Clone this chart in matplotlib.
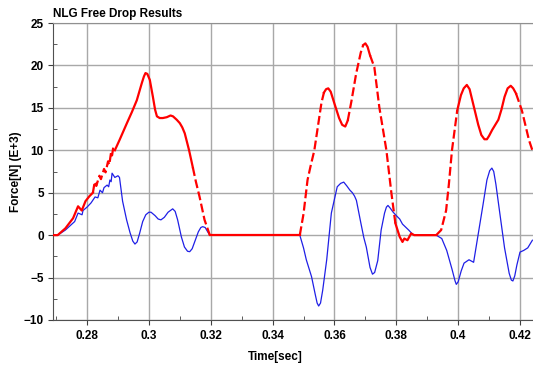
import numpy as np
import matplotlib
matplotlib.use("Agg")
import matplotlib.pyplot as plt
from matplotlib.ticker import MultipleLocator, FormatStrFormatter

plt.rcParams['font.family'] = ['Liberation Sans', 'DejaVu Sans']
plt.rcParams['font.weight'] = 'bold'

# blue trace (time [s], force [kN])
blue_t = [0.2690, 0.2705, 0.2730, 0.2760, 0.2771, 0.2784, 0.2787, 0.2800, 0.2813, 0.2826,
          0.2835, 0.2842, 0.2850, 0.2855, 0.2865, 0.2870, 0.2874, 0.2878, 0.2881, 0.2890,
          0.2900, 0.2905, 0.2915, 0.2928, 0.2939, 0.2948, 0.2955, 0.2962, 0.2970, 0.2980,
          0.2990, 0.3000, 0.3007, 0.3020, 0.3030, 0.3039, 0.3050, 0.3062, 0.3077, 0.3085,
          0.3093, 0.3105, 0.3115, 0.3125, 0.3132, 0.3140, 0.3150, 0.3160, 0.3168, 0.3174,
          0.3182, 0.3190, 0.3197, 0.3488, 0.3500, 0.3509, 0.3526, 0.3538, 0.3544, 0.3549,
          0.3555, 0.3562, 0.3575, 0.3590, 0.3609, 0.3620, 0.3630, 0.3640, 0.3650, 0.3658,
          0.3665, 0.3671, 0.3685, 0.3695, 0.3703, 0.3715, 0.3723, 0.3730, 0.3740, 0.3751,
          0.3762, 0.3768, 0.3773, 0.3780, 0.3790, 0.3800, 0.3811, 0.3820, 0.3840, 0.3853,
          0.3860, 0.3929, 0.3947, 0.3963, 0.3980, 0.3990, 0.3994, 0.4000, 0.4010, 0.4019,
          0.4035, 0.4050, 0.4067, 0.4080, 0.4093, 0.4102, 0.4109, 0.4115, 0.4122, 0.4135,
          0.4150, 0.4165, 0.4172, 0.4177, 0.4183, 0.4190, 0.4200, 0.4212, 0.4225, 0.4240]
blue_v = [0.0, 0.0, 0.6, 1.6, 2.6, 2.4, 2.9, 3.3, 3.8, 4.5,
          4.4, 5.3, 5.0, 5.6, 5.9, 5.7, 6.5, 6.3, 7.3, 6.8,
          7.0, 6.8, 4.0, 1.8, 0.3, -0.7, -1.05, -0.8, 0.2, 1.6,
          2.4, 2.7, 2.7, 2.3, 1.9, 1.8, 2.1, 2.7, 3.1, 2.8,
          1.8, -0.2, -1.4, -1.9, -1.95, -1.6, -0.6, 0.4, 0.9, 1.0,
          0.9, 0.4, 0.0, 0.0, -1.5, -2.9, -4.9, -7.0, -8.0, -8.35,
          -8.0, -6.5, -2.9, 2.6, 5.7, 6.1, 6.25, 5.8, 5.3, 5.0,
          4.6, 4.1, 1.5, -0.3, -1.4, -3.8, -4.6, -4.4, -3.0, 0.6,
          2.6, 3.3, 3.5, 3.2, 2.7, 2.3, 1.9, 1.3, 0.6, 0.1,
          0.0, 0.0, -0.4, -1.8, -4.0, -5.4, -5.8, -5.5, -4.2, -3.3,
          -2.9, -3.2, 0.6, 3.5, 6.5, 7.6, 7.9, 7.5, 6.0, 2.5,
          -1.5, -4.5, -5.3, -5.4, -4.8, -3.5, -2.0, -1.8, -1.5, -0.6]

# red trace
red_t = [0.2690, 0.2705, 0.2730, 0.2755, 0.2771, 0.2783, 0.2795, 0.2808, 0.2819, 0.2825,
         0.2830, 0.2840, 0.2845, 0.2855, 0.2860, 0.2868, 0.2872, 0.2878, 0.2881, 0.2885,
         0.2890, 0.2905, 0.2929, 0.2945, 0.2961, 0.2977, 0.2984, 0.2989, 0.2995, 0.3003,
         0.3013, 0.3020, 0.3026, 0.3035, 0.3045, 0.3058, 0.3070, 0.3078, 0.3090, 0.3100,
         0.3108, 0.3116, 0.3130, 0.3142, 0.3152, 0.3164, 0.3180, 0.3197, 0.3488, 0.3500,
         0.3513, 0.3522, 0.3535, 0.3558, 0.3566, 0.3573, 0.3580, 0.3588, 0.3600, 0.3615,
         0.3625, 0.3635, 0.3643, 0.3655, 0.3670, 0.3685, 0.3693, 0.3700, 0.3707, 0.3715,
         0.3729, 0.3745, 0.3768, 0.3784, 0.3797, 0.3811, 0.3820, 0.3826, 0.3836, 0.3848,
         0.3858, 0.3929, 0.3945, 0.3961, 0.3970, 0.3980, 0.3997, 0.4009, 0.4018, 0.4028,
         0.4037, 0.4045, 0.4055, 0.4065, 0.4075, 0.4085, 0.4093, 0.4100, 0.4110, 0.4120,
         0.4130, 0.4140, 0.4150, 0.4160, 0.4170, 0.4178, 0.4187, 0.4206, 0.4229, 0.4240]
red_v = [0.0, 0.0, 0.8, 2.0, 3.4, 2.9, 4.0, 4.6, 5.0, 6.3,
         5.8, 7.0, 6.6, 7.8, 7.4, 8.7, 8.3, 9.8, 9.4, 10.4,
         10.0, 11.2, 13.2, 14.5, 15.9, 17.9, 18.7, 19.1, 19.0, 18.3,
         16.3, 14.8, 14.0, 13.8, 13.8, 13.9, 14.1, 14.0, 13.6, 13.2,
         12.7, 12.0, 10.0, 8.0, 6.3, 4.5, 1.8, 0.0, 0.0, 2.5,
         6.5, 8.0, 10.0, 15.6, 16.8, 17.2, 17.3, 16.9, 15.5, 13.8,
         13.0, 12.8, 13.5, 15.8, 19.0, 21.5, 22.4, 22.6, 22.2, 21.2,
         19.8, 15.1, 10.0, 5.0, 1.4, -0.2, -0.8, -0.4, -0.6, 0.2,
         0.0, 0.0, 0.6, 2.9, 6.0, 10.0, 14.7, 16.5, 17.3, 17.7,
         17.2, 16.0, 14.5, 13.0, 11.8, 11.3, 11.3, 11.7, 12.4, 13.0,
         13.6, 14.8, 16.3, 17.3, 17.6, 17.3, 16.7, 14.7, 11.2, 10.0]

# time windows where the red trace is drawn dashed
red_dashed = [(0.2815, 0.2890), (0.3142, 0.3197), (0.3488, 0.3566), (0.3643, 0.3690),
              (0.3715, 0.3800), (0.3935, 0.3997), (0.4195, 0.4240)]

fig = plt.figure(figsize=(5.33, 3.67), dpi=100)
ax = fig.add_axes([53/533, 1 - 320/367, 1 - 53/533, (320 - 23)/367])

rt = np.array(red_t)
rv = np.array(red_v)
mid = (rt[:-1] + rt[1:]) / 2
seg_dash = np.zeros(len(mid), dtype=bool)
for a, b in red_dashed:
    seg_dash |= (mid >= a) & (mid <= b)

# group consecutive segments of the same style
start = 0
for i in range(1, len(mid) + 1):
    if i == len(mid) or seg_dash[i] != seg_dash[start]:
        ls = (0, (4, 1.6)) if seg_dash[start] else '-'
        ax.plot(rt[start:i + 1], rv[start:i + 1], color='#ff0000', lw=1.6,
                linestyle=ls, zorder=4)
        start = i

ax.plot(blue_t, blue_v, color='#1f1fe6', lw=0.9, zorder=3)

ax.set_xlim(0.269, 0.4242)
ax.set_ylim(-10, 25)
ax.xaxis.set_major_locator(MultipleLocator(0.02))
ax.xaxis.set_minor_locator(MultipleLocator(0.01))
ax.yaxis.set_major_locator(MultipleLocator(5))
ax.yaxis.set_minor_locator(MultipleLocator(2.5))
ax.xaxis.set_major_formatter(FormatStrFormatter('%g'))
ax.grid(True, which='major', color='#a8a8a8', lw=1.0)
ax.tick_params(which='both', labelsize=8.5, colors='#404040', labelcolor='black')
ax.tick_params(which='major', direction='out', length=3.5)
ax.tick_params(which='minor', direction='in', length=3)
ax.tick_params(axis='x', which='major', pad=4)
ax.tick_params(axis='y', which='major', pad=3)
for s in ['left', 'bottom']:
    ax.spines[s].set_color('#505050')
ax.spines['top'].set_color('#909090')
ax.spines['right'].set_visible(False)

ax.set_title('NLG Free Drop Results', loc='left', fontsize=8.5, fontweight='bold', pad=4)
fig.text(275/533, 1 - 357/367, 'Time[sec]', ha='center', va='center',
         fontsize=8.5, fontweight='bold')
fig.text(16/533, 1 - 172/367, 'Force[N] (E+3)', ha='center', va='center',
         rotation=90, fontsize=8.5, fontweight='bold')

fig.savefig('out.png', dpi=100)
